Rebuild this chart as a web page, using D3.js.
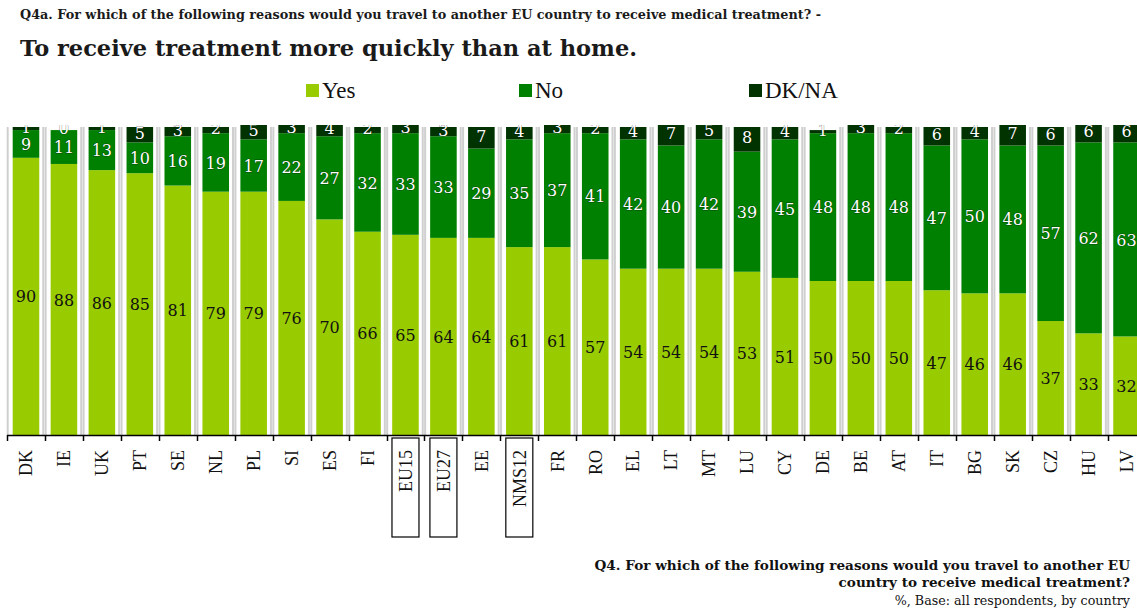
<!DOCTYPE html>
<html>
<head>
<meta charset="utf-8">
<script src="https://cdn.jsdelivr.net/npm/d3@7"></script>
<style>
  body { margin: 0; background: #fff; }
  svg { display: block; }
</style>
</head>
<body>
<div id="chart"></div>
<script>
// pays dans l'ordre du graphique
var countries = ["DK","IE","UK","PT","SE","NL","PL","SI","ES","FI","EU15","EU27","EE","NMS12","FR",
                 "RO","EL","LT","MT","LU","CY","DE","BE","AT","IT","BG","SK","CZ","HU","LV"];
var yes  = [90,88,86,85,81,79,79,76,70,66,65,64,64,61,61,57,54,54,54,53,51,50,50,50,47,46,46,37,33,32];
var no   = [9,11,13,10,16,19,17,22,27,32,33,33,29,35,37,41,42,40,42,39,45,48,48,48,47,50,48,57,62,63];
var dkna = [1,0,1,5,3,2,5,3,4,2,3,3,7,4,3,2,4,7,5,8,4,1,3,2,6,4,7,6,6,6];
var seriesNames = ["Yes","No","DK/NA"];
var boxed = ["EU15","EU27","NMS12"];

var W = 1137, H = 610;
var colors = ["#99cc00", "#008000", "#003300"];

var svg = d3.select("#chart").append("svg")
    .attr("width", W).attr("height", H);

// titre
svg.append("text").attr("x", 20).attr("y", 19)
    .attr("font-family", "DejaVu Serif").attr("font-weight", "bold").attr("font-size", 12.8)
    .attr("fill", "#1a1a1a")
    .text("Q4a. For which of the following reasons would you travel to another EU country to receive medical treatment? -");
svg.append("text").attr("x", 20).attr("y", 56)
    .attr("font-family", "DejaVu Serif").attr("font-weight", "bold").attr("font-size", 22.5)
    .attr("fill", "#1a1a1a")
    .text("To receive treatment more quickly than at home.");

// légende
var legX = [306, 519, 749];
var leg = svg.selectAll(".leg").data(seriesNames).enter().append("g")
    .attr("transform", function(d, i){ return "translate(" + legX[i] + ",84)"; });
leg.append("rect").attr("width", 13).attr("height", 13)
    .attr("fill", function(d, i){ return colors[i]; });
leg.append("text").attr("x", 16).attr("y", 14)
    .attr("font-family", "Liberation Serif").attr("font-size", 23).attr("fill", "#111")
    .text(function(d){ return d; });

var x = d3.scaleBand().domain(countries).range([7, 1145.5])
    .paddingInner(0.3).paddingOuter(0.15);
var y = d3.scaleLinear().domain([0, 100]).range([435, 127]);

var rows = countries.map(function(c, i){ return { c: c, Yes: yes[i], No: no[i], "DK/NA": dkna[i] }; });
var stack = d3.stack().keys(seriesNames)(rows);

svg.append("clipPath").attr("id", "clip")
  .append("rect").attr("x", 0).attr("y", 125).attr("width", W).attr("height", 310);

var plot = svg.append("g").attr("clip-path", "url(#clip)");

// lignes grises de chaque côté des barres
var bw = x.bandwidth();
countries.forEach(function(c){
    [x(c) - 5, x(c) + bw + 4].forEach(function(gx){
        plot.append("line").attr("x1", gx).attr("x2", gx).attr("y1", 127).attr("y2", 435)
            .attr("stroke", "#cfcfcf").attr("stroke-width", 2);
    });
});

var layers = plot.selectAll(".layer").data(stack).enter().append("g")
    .attr("fill", function(d, i){ return colors[i]; });
layers.selectAll("rect").data(function(d){ return d; }).enter().append("rect")
    .attr("x", function(d){ return x(d.data.c); })
    .attr("width", bw)
    .attr("y", function(d){ return y(d[1]); })
    .attr("height", function(d){ return y(d[0]) - y(d[1]); });

// étiquettes des valeurs
stack.forEach(function(s, si){
    plot.selectAll(".lab" + si).data(s).enter().append("text")
        .attr("x", function(d){ return x(d.data.c) + bw / 2; })
        .attr("y", function(d){ return (y(d[0]) + y(d[1])) / 2; })
        .attr("dy", si == 2 ? "0.25em" : "0.38em")
        .attr("text-anchor", "middle")
        .attr("font-family", "DejaVu Serif").attr("font-size", 16)
        .attr("fill", si == 0 ? "#111" : "#fff")
        .attr("stroke", si == 0 ? "none" : "rgba(0,0,0,0.45)")
        .attr("stroke-width", 1).attr("paint-order", "stroke")
        .text(function(d){ return d[1] - d[0]; });
});

// axe
svg.append("line").attr("x1", 7).attr("x2", W).attr("y1", 435.5).attr("y2", 435.5)
    .attr("stroke", "#000").attr("stroke-width", 1.5);
countries.forEach(function(c){
    var tx = Math.round(x(c) - x.step() * x.paddingOuter()) + 0.5;
    svg.append("line").attr("x1", tx).attr("x2", tx).attr("y1", 435).attr("y2", 441)
        .attr("stroke", "#000").attr("stroke-width", 1.5);
});

var lab = svg.selectAll(".xl").data(countries).enter().append("g")
    .attr("transform", function(d){ return "translate(" + (x(d) + bw / 2) + ",450) rotate(-90)"; });
lab.append("text")
    .attr("text-anchor", "end").attr("dy", "0.35em")
    .attr("font-family", "Liberation Serif").attr("font-size", 18).attr("fill", "#111")
    .text(function(d){ return d; });

svg.selectAll(".box").data(boxed).enter().append("rect")
    .attr("x", function(d){ return x(d) + bw / 2 - 13.5; })
    .attr("y", 438).attr("width", 27).attr("height", 99)
    .attr("fill", "none").attr("stroke", "#000").attr("stroke-width", 1.2);

// note de bas de page
var foot = svg.append("g").attr("font-family", "DejaVu Serif").attr("text-anchor", "end").attr("fill", "#111");
foot.append("text").attr("x", 1130).attr("y", 570).attr("font-weight", "bold").attr("font-size", 13.6)
    .text("Q4. For which of the following reasons would you travel to another EU");
foot.append("text").attr("x", 1130).attr("y", 587).attr("font-weight", "bold").attr("font-size", 13.6)
    .text("country to receive medical treatment?");
foot.append("text").attr("x", 1130).attr("y", 605).attr("font-size", 12.7)
    .text("%, Base: all respondents, by country");
</script>
</body>
</html>
